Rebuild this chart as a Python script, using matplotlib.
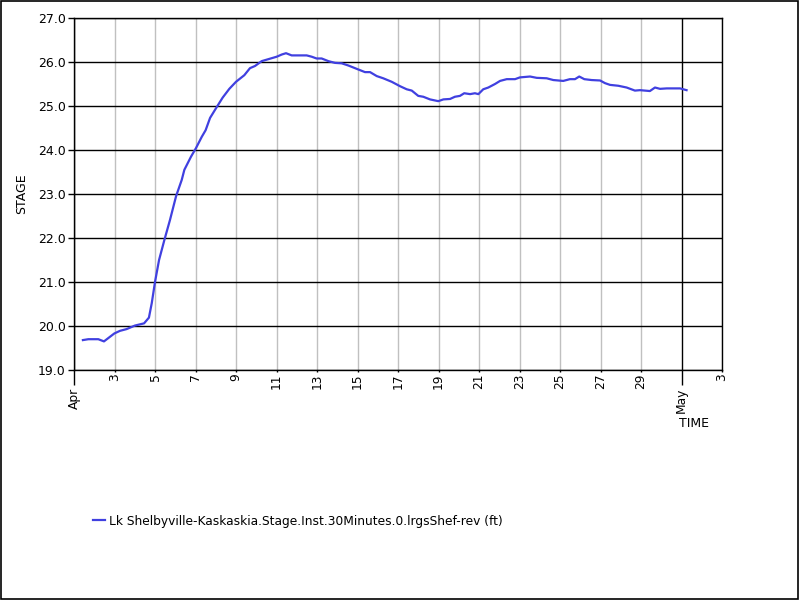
"""
Lake Shelbyville stage hydrograph, April (30-minute instantaneous data).
"""

import numpy as np
import matplotlib.pyplot as plt
from matplotlib.patches import Rectangle
from matplotlib.ticker import FixedLocator, FixedFormatter

# time as fractional day-of-month counted from Apr 1 (Apr 1 00:00 = 1.0, May 1 = 31.0)
days = [
    1.44, 1.71, 2.20, 2.48, 2.99, 3.27, 3.60, 4.01, 4.46, 4.70, 4.84, 5.00,
    5.20, 5.46, 5.74, 6.04, 6.32, 6.45, 6.78, 7.02, 7.31, 7.50, 7.72, 7.96,
    8.34, 8.67, 9.00, 9.41, 9.69, 9.94, 10.27, 10.64, 11.01, 11.26, 11.47,
    11.75, 12.49, 12.74, 12.98, 13.23, 13.56, 13.89, 14.22, 14.55, 15.04,
    15.37, 15.62, 15.95, 16.27, 16.69, 17.10, 17.43, 17.68, 18.00, 18.25,
    18.58, 18.99, 19.24, 19.57, 19.81, 20.06, 20.27, 20.56, 20.80, 20.97,
    21.21, 21.46, 21.79, 22.04, 22.37, 22.78, 23.02, 23.52, 23.85, 24.34,
    24.67, 25.16, 25.49, 25.74, 25.95, 26.20, 26.56, 26.98, 27.22, 27.47,
    27.88, 28.29, 28.70, 28.95, 29.44, 29.69, 29.94, 30.27, 30.93, 31.25,
]
stage = [
    19.68, 19.70, 19.70, 19.65, 19.83, 19.89, 19.93, 20.01, 20.06, 20.19,
    20.52, 21.00, 21.50, 21.95, 22.41, 22.95, 23.32, 23.55, 23.85, 24.04,
    24.30, 24.45, 24.73, 24.91, 25.19, 25.39, 25.55, 25.70, 25.86, 25.91,
    26.02, 26.07, 26.12, 26.17, 26.20, 26.15, 26.15, 26.12, 26.08, 26.08,
    26.02, 25.98, 25.97, 25.92, 25.83, 25.77, 25.77, 25.68, 25.63, 25.55,
    25.45, 25.38, 25.35, 25.23, 25.21, 25.15, 25.11, 25.15, 25.16, 25.21,
    25.23, 25.29, 25.27, 25.29, 25.27, 25.38, 25.42, 25.50, 25.57, 25.61,
    25.61, 25.65, 25.67, 25.64, 25.63, 25.59, 25.57, 25.61, 25.61, 25.67,
    25.61, 25.59, 25.58, 25.52, 25.48, 25.46, 25.42, 25.35, 25.36, 25.34,
    25.42, 25.39, 25.40, 25.40, 25.36,
]

month_ticks = [1, 31]
month_labels = ["Apr", "May"]
day_ticks = [3, 5, 7, 9, 11, 13, 15, 17, 19, 21, 23, 25, 27, 29, 33]
day_labels = ["3", "5", "7", "9", "11", "13", "15", "17", "19", "21",
              "23", "25", "27", "29", "3"]
stage_ticks = np.arange(19.0, 27.01, 1.0)

series_name = "Lk Shelbyville-Kaskaskia.Stage.Inst.30Minutes.0.lrgsShef-rev (ft)"

plt.rcParams["font.family"] = "DejaVu Sans"
plt.rcParams["font.size"] = 9

fig = plt.figure(figsize=(8, 6), dpi=100)
ax = fig.add_axes([74 / 800, 1 - 370 / 600, 648 / 800, 352 / 600])

line, = ax.plot(days, stage, color="#4040e0", linewidth=1.6,
                label=series_name, zorder=3)

ax.set_xlim(1, 33)
ax.set_ylim(19, 27)

# tick lengths and pads are in points (1 px = 0.72 pt at 100 dpi)
ax.xaxis.set_major_locator(FixedLocator(month_ticks))
ax.xaxis.set_major_formatter(FixedFormatter(month_labels))
ax.xaxis.set_minor_locator(FixedLocator(day_ticks))
ax.xaxis.set_minor_formatter(FixedFormatter(day_labels))
ax.tick_params(axis="x", which="major", length=11, width=1, pad=1.5,
               labelrotation=90, labelsize=8.8, colors="black")
ax.tick_params(axis="x", which="minor", length=1.5, width=1, pad=1,
               labelrotation=90, labelsize=8.8, colors="black")

ax.set_yticks(stage_ticks)
ax.set_yticklabels([f"{v:.1f}" for v in stage_ticks])
ax.tick_params(axis="y", length=4, width=1, pad=2, labelsize=9)

# gridlines: gray daily verticals, black month verticals and stage horizontals
ax.grid(True, axis="x", which="minor", color="#c0c0c0", linewidth=1)
ax.grid(True, axis="x", which="major", color="black", linewidth=1)
ax.grid(True, axis="y", which="major", color="black", linewidth=1)
ax.set_axisbelow(True)

for spine in ax.spines.values():
    spine.set_color("black")
    spine.set_linewidth(1)

ax.set_ylabel("STAGE", labelpad=7)
ax.set_xlabel("TIME")
ax.xaxis.set_label_coords((694 - 74) / 648, (370 - 417) / 352)

fig.legend(handles=[line], loc="center left",
           bbox_to_anchor=(93 / 800, 1 - 521 / 600),
           frameon=False, borderpad=0, borderaxespad=0,
           handlelength=1.0, handletextpad=0.3, fontsize=8.8)

fig.patches.append(Rectangle((0.5 / 800, 1.5 / 600), 797 / 800, 597.5 / 600,
                             transform=fig.transFigure, fill=False,
                             edgecolor="black", linewidth=1.2))

fig.savefig("out.png", dpi=100)
